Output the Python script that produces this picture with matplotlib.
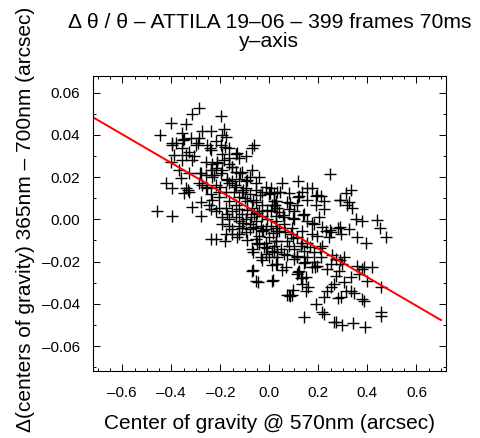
import matplotlib
matplotlib.use("Agg")
import matplotlib.pyplot as plt
import numpy as np
from matplotlib.ticker import MultipleLocator

# --- dados (arcsec) ---
cog_570 = [
    -0.286, -0.314, -0.196, -0.400, -0.338, -0.445, -0.273, -0.237, -0.184, -0.355,
    -0.176, -0.347, -0.286, -0.396, -0.380, -0.298, -0.253, -0.196, -0.061, -0.069,
    -0.355, -0.326, -0.237, -0.164, -0.388, -0.338, -0.306, -0.192, -0.135, -0.094,
    -0.123, -0.400, -0.355, -0.314, -0.233, -0.212, -0.164, -0.152, -0.367, -0.237,
    -0.217, -0.069, -0.278, -0.257, -0.225, -0.196, -0.326, -0.041, -0.359, -0.172,
    -0.152, -0.123, -0.421, -0.286, -0.273, -0.396, -0.338, -0.326, -0.347, -0.135,
    -0.164, -0.094, -0.053, -0.012, 0.008, 0.020, -0.237, -0.204, -0.278, -0.314,
    -0.245, -0.123, -0.176, -0.135, -0.090, -0.053, -0.029, 0.012, -0.457, -0.396,
    -0.278, -0.237, -0.217, -0.172, -0.135, -0.110, -0.094, -0.061, -0.029, -0.008,
    -0.192, -0.164, -0.123, -0.152, -0.081, -0.053, -0.012, 0.008, -0.176, -0.123,
    -0.094, -0.041, -0.237, -0.217, -0.180, -0.131, -0.053, 0.000, -0.069, -0.020,
    0.020, -0.033, -0.012, 0.028, -0.069, -0.053, 0.012,
    # lado direito
    0.249, 0.118, 0.053, 0.032, 0.155, 0.172, 0.122, 0.192, 0.212, 0.314,
    0.334, 0.289, 0.326, 0.338, 0.073, 0.114, 0.192, 0.224, 0.101, 0.143,
    0.204, 0.354, 0.379, 0.441, 0.453, 0.477, 0.396, 0.359, 0.326, 0.294,
    0.278, 0.253, 0.233, 0.245, 0.196, 0.216, 0.061, 0.093, 0.134, 0.172,
    0.114, 0.073, 0.155, 0.101, 0.143, 0.049, 0.184, 0.306, 0.273, 0.298,
    0.253, 0.212, 0.184, 0.143, 0.101, 0.069, 0.032, 0.122, 0.172, 0.359,
    0.379, 0.420, 0.367, 0.400, 0.334, 0.285, 0.273, 0.306, 0.265, 0.151,
    0.134, 0.253, 0.237, 0.151, 0.457, 0.334, 0.346, 0.314, 0.073, 0.093,
    0.224, 0.278, 0.294, 0.379, 0.387, 0.192, 0.216, 0.224, 0.143, 0.457,
    0.457, 0.265, 0.298, 0.342, 0.391,
    0.081, 0.273, 0.387,
    # nuvem central
    0.020, 0.032, 0.041, 0.081, 0.028, 0.061, 0.101, 0.155, 0.184, 0.028,
    0.041, 0.089, 0.130, 0.081, 0.028, 0.020, 0.061, 0.114, 0.155, 0.114,
    0.130, 0.196, 0.237, 0.081, 0.134, 0.224, 0.020,
    -0.110, -0.081, -0.053, -0.029, 0.000, 0.028, -0.081, -0.110, -0.069, -0.041,
    0.008, -0.123, -0.152, -0.164, -0.123, -0.053, -0.081, 0.028, 0.032, -0.029,
    0.028, -0.012, -0.041, 0.012, 0.000, 0.032, -0.192, -0.204, -0.217, -0.176,
    -0.257, -0.217, -0.192, -0.318, -0.164, -0.184, -0.257, -0.135, -0.094, -0.143,
    -0.233, -0.164, -0.204, -0.110, -0.073, -0.033, -0.152,
    -0.100, -0.067, -0.039, 0.002, 0.043, 0.084, 0.116, 0.153, 0.194, 0.288,
    0.316, -0.092, -0.051, -0.010, 0.022, 0.055, 0.096, 0.137, 0.173, 0.214,
    0.247, 0.288, -0.108, -0.067, -0.027, 0.014, 0.063, 0.096, 0.133, 0.165,
    0.206, 0.255, 0.288, -0.092, -0.051, -0.010, 0.031, 0.071, 0.112, 0.145,
    0.186, -0.067, -0.031, 0.010, 0.051, 0.116, 0.133, -0.067, -0.047, 0.014,
    0.157, 0.084, 0.096,
    # canto superior esquerdo
    -0.398, -0.353, -0.292, -0.243, -0.182, -0.133, -0.214, -0.194, -0.153, -0.120,
    -0.284, -0.235, -0.173, -0.141, -0.108, -0.202, -0.333, -0.255, -0.092,
]

delta_cog = [
    0.0527, 0.0500, 0.0490, 0.0457, 0.0450, 0.0400, 0.0420, 0.0420, 0.0430, 0.0410,
    0.0390, 0.0380, 0.0386, 0.0353, 0.0360, 0.0350, 0.0350, 0.0350, 0.0350, 0.0340,
    0.0340, 0.0320, 0.0330, 0.0340, 0.0306, 0.0306, 0.0300, 0.0310, 0.0310, 0.0300,
    0.0290, 0.0270, 0.0280, 0.0280, 0.0260, 0.0270, 0.0260, 0.0250, 0.0235, 0.0235,
    0.0245, 0.0235, 0.0220, 0.0210, 0.0210, 0.0220, 0.0220, 0.0200, 0.0198, 0.0190,
    0.0180, 0.0190, 0.0174, 0.0174, 0.0165, 0.0150, 0.0150, 0.0130, 0.0127, 0.0155,
    0.0174, 0.0150, 0.0140, 0.0155, 0.0150, 0.0127, 0.0118, 0.0104, 0.0080, 0.0060,
    0.0070, 0.0104, 0.0056, 0.0070, 0.0085, 0.0080, 0.0070, 0.0070, 0.0042, 0.0014,
    0.0014, 0.0047, 0.0038, 0.0024, 0.0010, 0.0024, 0.0000, 0.0024, 0.0014, 0.0000,
    -0.0024, -0.0033, -0.0033, -0.0047, -0.0047, -0.0040, -0.0047, -0.0033, -0.0070, -0.0070,
    -0.0060, -0.0080, -0.0094, -0.0094, -0.0104, -0.0085, -0.0094, -0.0085, -0.0140, -0.0130,
    -0.0127, -0.0180, -0.0165, -0.0210, -0.0245, -0.0290, -0.0290,
    # lado direito
    0.0217, 0.0184, 0.0170, 0.0130, 0.0150, 0.0150, 0.0110, 0.0110, 0.0110, 0.0127,
    0.0137, 0.0090, 0.0080, 0.0056, 0.0080, 0.0070, 0.0070, 0.0047, 0.0038, 0.0024,
    0.0010, 0.0000, -0.0009, -0.0005, -0.0040, -0.0085, -0.0110, -0.0085, -0.0047, -0.0070,
    -0.0040, -0.0060, -0.0056, -0.0085, -0.0080, -0.0127, -0.0024, -0.0040, -0.0056, -0.0070,
    -0.0085, -0.0104, -0.0110, -0.0140, -0.0150, -0.0140, -0.0155, -0.0180, -0.0190, -0.0210,
    -0.0210, -0.0180, -0.0200, -0.0205, -0.0190, -0.0226, -0.0210, -0.0245, -0.0226, -0.0220,
    -0.0235, -0.0226, -0.0260, -0.0290, -0.0275, -0.0245, -0.0270, -0.0296, -0.0306, -0.0275,
    -0.0306, -0.0320, -0.0340, -0.0340, -0.0320, -0.0340, -0.0350, -0.0340, -0.0358, -0.0360,
    -0.0367, -0.0370, -0.0367, -0.0377, -0.0386, -0.0400, -0.0437, -0.0447, -0.0460, -0.0437,
    -0.0456, -0.0485, -0.0500, -0.0490, -0.0510,
    -0.0360, -0.0485, -0.0226,
    # nuvem central
    0.0070, 0.0056, 0.0033, 0.0047, 0.0014, 0.0010, 0.0000, -0.0010, -0.0024, -0.0040,
    -0.0056, -0.0070, -0.0127, -0.0127, -0.0104, -0.0155, -0.0165, -0.0174, -0.0180, -0.0260,
    -0.0280, -0.0220, -0.0235, 0.0127, 0.0130, 0.0085, 0.0085,
    0.0226, 0.0200, 0.0174, 0.0130, 0.0118, 0.0085, 0.0118, 0.0130, 0.0056, 0.0038,
    0.0038, 0.0047, 0.0038, 0.0000, -0.0010, -0.0010, -0.0024, -0.0010, -0.0056, -0.0056,
    -0.0104, -0.0110, -0.0118, -0.0150, -0.0180, -0.0180, 0.0010, 0.0130, 0.0165, 0.0130,
    0.0155, 0.0370, 0.0400, 0.0386, 0.0290, 0.0280, 0.0270, 0.0226, 0.0180, 0.0130,
    0.0094, 0.0085, 0.0056, -0.0040, 0.0010, -0.0033, -0.0070,
    0.0101, 0.0091, 0.0115, 0.0124, 0.0129, 0.0077, 0.0106, 0.0091, 0.0115, 0.0091,
    0.0068, 0.0044, 0.0030, 0.0044, 0.0068, 0.0020, 0.0006, 0.0020, -0.0018, -0.0036,
    -0.0051, -0.0036, -0.0018, -0.0036, -0.0051, -0.0065, -0.0060, -0.0088, -0.0112, -0.0131,
    -0.0136, -0.0169, -0.0193, -0.0098, -0.0112, -0.0136, -0.0155, -0.0169, -0.0178, -0.0202,
    -0.0226, -0.0155, -0.0193, -0.0216, -0.0240, -0.0249, -0.0278, -0.0240, -0.0297, -0.0288,
    -0.0320, -0.0363, -0.0335,
    # canto superior esquerdo
    0.0361, 0.0375, 0.0361, 0.0337, 0.0342, 0.0314, 0.0266, 0.0233, 0.0248, 0.0219,
    0.0219, 0.0200, 0.0186, 0.0162, 0.0139, 0.0153, 0.0139, 0.0148, 0.0186,
]

# reta ajustada (extremos)
reta_x = [-0.72, 0.70]
reta_y = [0.0484, -0.0477]

plt.rcParams["font.family"] = ["Liberation Sans", "DejaVu Sans"]

fig = plt.figure(figsize=(4.81, 4.38), dpi=100)
ax = fig.add_axes([0.193, 0.153, 0.734, 0.673])

ax.plot(cog_570, delta_cog, linestyle="none", marker="+", color="black",
        markersize=8, markeredgewidth=1.0)
ax.plot(reta_x, reta_y, color="red", linewidth=1.4)

ax.set_xlim(-0.72, 0.72)
ax.set_ylim(-0.0718, 0.0678)
ax.xaxis.set_major_locator(MultipleLocator(0.2))
ax.xaxis.set_minor_locator(MultipleLocator(0.05))
ax.yaxis.set_major_locator(MultipleLocator(0.02))
ax.yaxis.set_minor_locator(MultipleLocator(0.01))
ax.xaxis.set_major_formatter(lambda v, p: f"{v:.1f}".replace("-", "\u2013"))
ax.yaxis.set_major_formatter(lambda v, p: f"{v:.2f}".replace("-", "\u2013"))
ax.tick_params(which="both", direction="in", top=True, right=True,
               labelsize=11, width=0.7, color="black")
ax.tick_params(axis="x", which="major", length=5, pad=11)
ax.tick_params(axis="y", which="major", length=5, pad=9)
ax.tick_params(which="minor", length=2.5)
for s in ax.spines.values():
    s.set_linewidth(0.8)

fig.text(0.560, 0.926,
         "\u0394 \u03b8 / \u03b8 \u2013 ATTILA 19\u201306 \u2013 399 frames 70ms\ny\u2013axis",
         fontsize=15.2, ha="center", va="center", linespacing=1.0)
fig.text(0.560, 0.034, "Center of gravity @ 570nm (arcsec)", fontsize=15,
         ha="center", va="center")
fig.text(0.052, 0.50, "\u0394(centers of gravity) 365nm \u2013 700nm (arcsec)",
         fontsize=15, ha="center", va="center", rotation=90)

fig.savefig("out.png", dpi=100)
